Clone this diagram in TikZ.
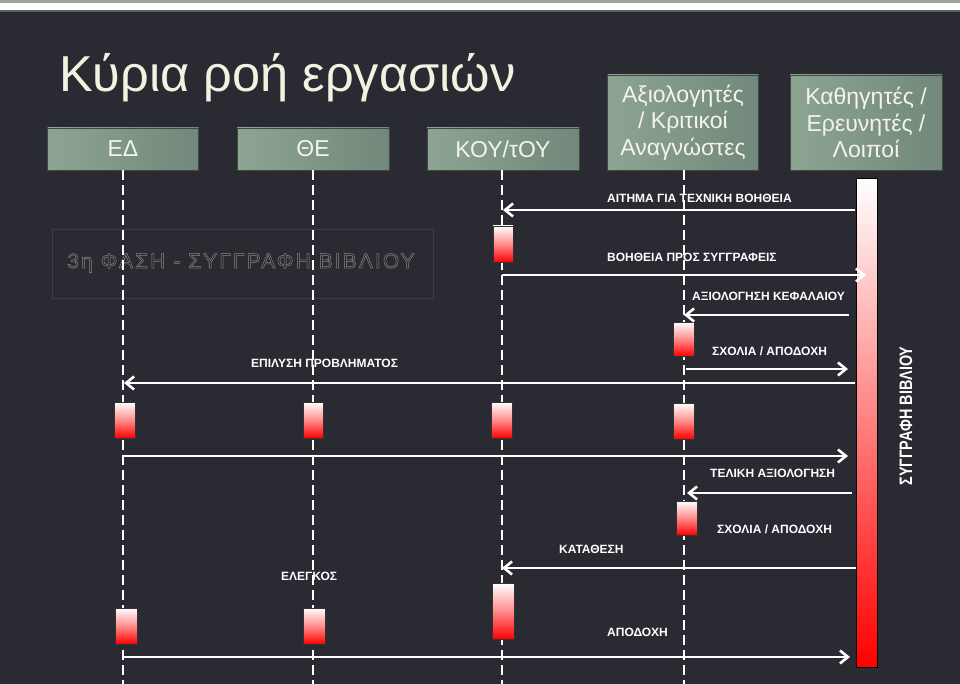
\documentclass[tikz,border=0pt]{standalone}
\usepackage{fontspec}
\setmainfont{Liberation Sans}
\newfontfamily\narrowfont[FakeStretch=0.8]{Liberation Sans}
\newfontfamily\phasefont[LetterSpace=10]{Liberation Sans}
\usetikzlibrary{arrows.meta}
\definecolor{bgc}{HTML}{292A32}
\definecolor{topgrey}{HTML}{9AA59C}
\definecolor{topline}{HTML}{5E605E}
\definecolor{titlec}{HTML}{F3F1DF}
\definecolor{hdrL}{HTML}{8EA493}
\definecolor{hdrR}{HTML}{71887A}
\definecolor{hdrB}{HTML}{3F4843}
\definecolor{hdrT}{HTML}{F4F4EC}
\definecolor{phasec}{HTML}{8C8678}
\definecolor{phasebox}{HTML}{3C3D44}
\newcommand{\outlinetxt}[1]{\special{pdf:literal direct 1 Tr 0.5 w}#1\special{pdf:literal direct 0 Tr}}
\tikzset{
  hdr/.style={draw=hdrB, line width=0.8pt, left color=hdrL, right color=hdrR,
    text=hdrT, font=\fontsize{23}{26.5}\selectfont, align=center, inner sep=0pt},
  life/.style={draw=white, line width=2.6pt, dash pattern=on 10pt off 5pt},
  actbox/.style={draw=black!80, line width=0.8pt, top color=white, bottom color=red, middle color=red!45!white},
  msg/.style={draw=white, line width=2.8pt, -{Straight Barb[length=8pt,width=13pt,line width=2.6pt]}},
  lbl/.style={text=white, font=\bfseries\fontsize{12}{12}\selectfont, inner sep=0pt, anchor=west,
    text height=8.6pt, text depth=0pt}
}
\begin{document}
\begin{tikzpicture}[x=1pt,y=-1pt]
\useasboundingbox (0,0) rectangle (960,684);
\fill[bgc] (0,0) rectangle (960,684);
\fill[topgrey] (0,0) rectangle (960,3);
\fill[white] (0,3) rectangle (960,10);
\fill[topline] (0,10) rectangle (960,12);

% title
\node[anchor=base west, text=titlec, font=\fontsize{50.5}{50.5}\selectfont, inner sep=0pt] (title) at (59,92) {Κύρια ροή εργασιών};

% phase box
\draw[phasebox, line width=0.8pt] (52,229) rectangle (433,298);
\node[text=phasec, font=\phasefont\fontsize{21}{21}\selectfont, inner sep=0pt] (phase) at (241,263) {\outlinetxt{3η ΦΑΣΗ - ΣΥΓΓΡΑΦΗ ΒΙΒΛΙΟΥ}};

% headers
\node[hdr, minimum width=151pt, minimum height=42pt] (ed) at (123,149) {ΕΔ};
\node[hdr, minimum width=152pt, minimum height=42pt] (the) at (313,149) {ΘΕ};
\node[hdr, minimum width=152pt, minimum height=42pt] (kou) at (503,149) {ΚΟΥ/τΟΥ};
\node[hdr, minimum width=151pt, minimum height=95pt] (axi) at (683,122.5) {Αξιολογητές\\/ Κριτικοί\\Αναγνώστες};
\node[hdr, minimum width=152pt, minimum height=95pt] (kath) at (866,122.5) {Καθηγητές /\\Ερευνητές /\\Λοιποί};

% labels
\node[lbl] (l1) at (607,198) {ΑΙΤΗΜΑ ΓΙΑ ΤΕΧΝΙΚΗ ΒΟΗΘΕΙΑ};
\node[lbl] (l2) at (607,257) {ΒΟΗΘΕΙΑ ΠΡΟΣ ΣΥΓΓΡΑΦΕΙΣ};
\node[lbl] (l3) at (692,296) {ΑΞΙΟΛΟΓΗΣΗ ΚΕΦΑΛΑΙΟΥ};
\node[lbl] (l4) at (712,351) {ΣΧΟΛΙΑ / ΑΠΟΔΟΧΗ};
\node[lbl] (l5) at (251,363) {ΕΠΙΛΥΣΗ ΠΡΟΒΛΗΜΑΤΟΣ};
\node[lbl] (l6) at (710,473) {ΤΕΛΙΚΗ ΑΞΙΟΛΟΓΗΣΗ};
\node[lbl] (l7) at (717,529) {ΣΧΟΛΙΑ / ΑΠΟΔΟΧΗ};
\node[lbl] (l8) at (559,549) {ΚΑΤΑΘΕΣΗ};
\node[lbl] (l9) at (281,576) {ΕΛΕΓΚΟΣ};
\node[lbl] (l10) at (607,632) {ΑΠΟΔΟΧΗ};

% lifelines
\coordinate (edE) at (123,684);
\coordinate (theE) at (313,684);
\coordinate (kouE) at (502,684);
\coordinate (axiE) at (684,684);
\draw[life] (ed.south) -- (edE);
\draw[life] (the.south) -- (theE);
\draw[life] (kou.south -| kouE) -- (kouE);
\draw[life] (axi.south -| axiE) -- (axiE);

% activation boxes
\draw[actbox] (493,226) rectangle (513,262);
\draw[actbox] (673,322) rectangle (694,356);
\draw[actbox] (114,402) rectangle (135,438);
\draw[actbox] (303,402) rectangle (323,438);
\draw[actbox] (491,402) rectangle (512,438);
\draw[actbox] (673,403) rectangle (694,439);
\draw[actbox] (676,501) rectangle (697,535);
\draw[actbox] (492,583) rectangle (514,639);
\draw[actbox] (115,608) rectangle (137,644);
\draw[actbox] (303,608) rectangle (325,644);

% big bar
\node[draw=black, line width=1pt, top color=white, bottom color=red, minimum width=21pt, minimum height=488pt, inner sep=0pt] (bar) at (866.5,423) {};
\node[rotate=90, text=white, font=\narrowfont\bfseries\fontsize{18}{18}\selectfont, inner sep=0pt] (bartxt) at (906,416) {ΣΥΓΓΡΑΦΗ ΒΙΒΛΙΟΥ};

% messages
\coordinate (m1s) at (855,210); \coordinate (m1e) at (503,210);
\coordinate (m2s) at (502,275); \coordinate (m2e) at (866,275);
\coordinate (m3s) at (849,315); \coordinate (m3e) at (684,315);
\coordinate (m4s) at (686,369); \coordinate (m4e) at (848,369);
\coordinate (m5s) at (855,383); \coordinate (m5e) at (124,383);
\coordinate (m6s) at (124,456); \coordinate (m6e) at (848,456);
\coordinate (m7s) at (852,493); \coordinate (m7e) at (687,493);
\coordinate (m8s) at (856,568); \coordinate (m8e) at (502,568);
\coordinate (m9s) at (124,657); \coordinate (m9e) at (850,657);
\draw[msg] (m1s) -- (m1e);
\draw[msg] (m2s) -- (m2e);
\draw[msg] (m3s) -- (m3e);
\draw[msg] (m4s) -- (m4e);
\draw[msg] (m5s) -- (m5e);
\draw[msg] (m6s) -- (m6e);
\draw[msg] (m7s) -- (m7e);
\draw[msg] (m8s) -- (m8e);
\draw[msg] (m9s) -- (m9e);
\end{tikzpicture}
\end{document}
